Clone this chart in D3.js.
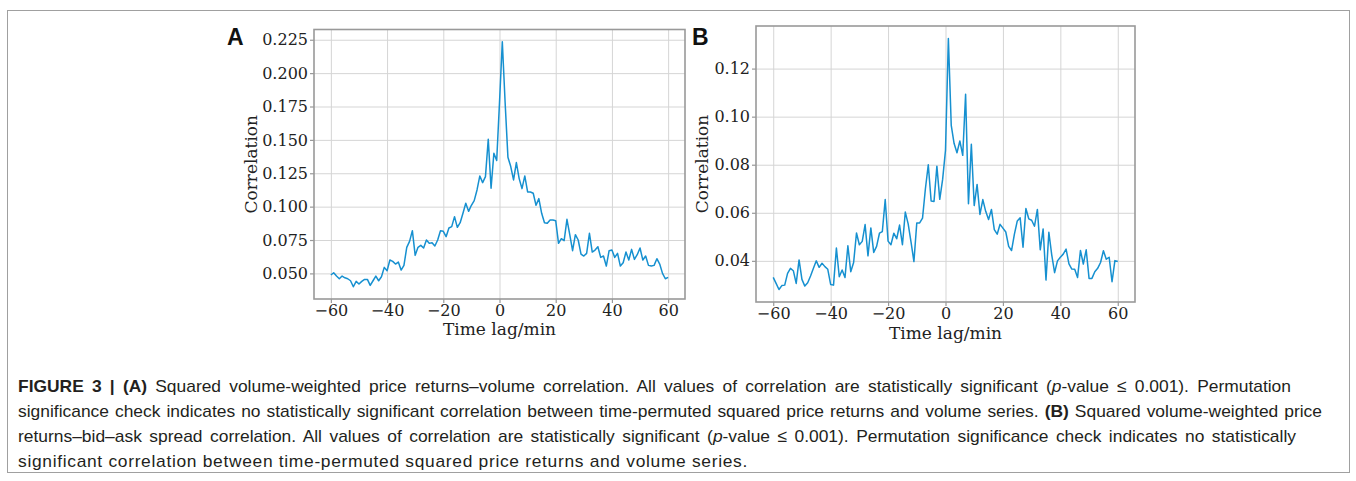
<!DOCTYPE html>
<html>
<head>
<meta charset="utf-8">
<script src="https://cdn.jsdelivr.net/npm/d3@7"></script>
<style>
  body { margin: 0; background: #fff; }
</style>
</head>
<body>
<div id="fig"></div>
<script>
// time lag in minutes, one point per minute
const lags = d3.range(-60, 61);

// (A) squared price returns - volume correlation
const corrA = [
  0.0488, 0.0505, 0.0480, 0.0460, 0.0480, 0.0467, 0.0460, 0.0445, 0.0400, 0.0440,
  0.0420, 0.0440, 0.0455, 0.0455, 0.0410, 0.0445, 0.0480, 0.0445, 0.0475, 0.0545,
  0.0520, 0.0600, 0.0590, 0.0570, 0.0585, 0.0525, 0.0560, 0.0695, 0.0740, 0.0820,
  0.0635, 0.0695, 0.0710, 0.0690, 0.0750, 0.0725, 0.0730, 0.0705, 0.0750, 0.0820,
  0.0815, 0.0775, 0.0840, 0.0850, 0.0925, 0.0845, 0.0880, 0.0950, 0.1025, 0.0965,
  0.1010, 0.1045, 0.1125, 0.1230, 0.1180, 0.1225, 0.1505, 0.1138, 0.1400, 0.1345,
  0.1780, 0.2235, 0.1780, 0.1370, 0.1300, 0.1200, 0.1330, 0.1210, 0.1135, 0.1230,
  0.1110, 0.1110, 0.1100, 0.1010, 0.1060, 0.0950, 0.0880, 0.0875, 0.0900, 0.0900,
  0.0895, 0.0725, 0.0760, 0.0745, 0.0905, 0.0790, 0.0670, 0.0790, 0.0750, 0.0645,
  0.0630, 0.0650, 0.0800, 0.0660, 0.0675, 0.0700, 0.0620, 0.0630, 0.0555, 0.0670,
  0.0675, 0.0620, 0.0650, 0.0555, 0.0580, 0.0660, 0.0600, 0.0680, 0.0605, 0.0640,
  0.0690, 0.0600, 0.0630, 0.0560, 0.0555, 0.0560, 0.0610, 0.0570, 0.0500, 0.0460,
  0.0470
];

// (B) squared price returns - bid-ask spread correlation
const corrB = [
  0.0331, 0.0306, 0.0281, 0.0297, 0.0299, 0.0348, 0.0369, 0.0359, 0.0306, 0.0404,
  0.0323, 0.0295, 0.0309, 0.0337, 0.0369, 0.0400, 0.0373, 0.0390, 0.0376, 0.0365,
  0.0302, 0.0299, 0.0453, 0.0334, 0.0362, 0.0331, 0.0463, 0.0355, 0.0393, 0.0516,
  0.0467, 0.0481, 0.0551, 0.0421, 0.0537, 0.0435, 0.0460, 0.0515, 0.0522, 0.0655,
  0.0482, 0.0467, 0.0515, 0.0492, 0.0549, 0.0467, 0.0603, 0.0554, 0.0478, 0.0397,
  0.0558, 0.0558, 0.0578, 0.0700, 0.0800, 0.0649, 0.0647, 0.0794, 0.0656, 0.0739,
  0.0860, 0.1325, 0.0964, 0.0888, 0.0850, 0.0899, 0.0839, 0.1093, 0.0638, 0.0885,
  0.0630, 0.0718, 0.0593, 0.0655, 0.0606, 0.0572, 0.0614, 0.0530, 0.0511, 0.0552,
  0.0536, 0.0520, 0.0460, 0.0443, 0.0511, 0.0566, 0.0579, 0.0457, 0.0618, 0.0575,
  0.0569, 0.0544, 0.0614, 0.0446, 0.0533, 0.0320, 0.0519, 0.0425, 0.0351, 0.0400,
  0.0415, 0.0428, 0.0449, 0.0387, 0.0366, 0.0365, 0.0331, 0.0443, 0.0387, 0.0446,
  0.0327, 0.0327, 0.0355, 0.0369, 0.0393, 0.0442, 0.0407, 0.0415, 0.0313, 0.0401,
  0.0397
];

const xTicks = [-60, -40, -20, 0, 20, 40, 60];
const yTicksA = [0.050, 0.075, 0.100, 0.125, 0.150, 0.175, 0.200, 0.225];
const yTicksB = [0.04, 0.06, 0.08, 0.10, 0.12];

const W = 1356, H = 481;
const serif = "'DejaVu Serif', serif";
const sans = "'Liberation Sans', Arial, sans-serif";
const lineColor = "#1690d0";
const spineColor = "#999";

const svg = d3.select("#fig")
    .append("svg")
    .attr("width", W)
    .attr("height", H)
    .style("display", "block");

// outer page frame
svg.append("rect")
    .attr("x", 7.5).attr("y", 10.5)
    .attr("width", 1342).attr("height", 462)
    .attr("fill", "none")
    .attr("stroke", "#a0a0a0");

function drawPanel(p) {
    const width = p.right - p.left,
        height = p.bottom - p.top;

    const g = svg.append("g")
        .attr("transform", `translate(${p.left},${p.top})`);

    const xScale = d3.scaleLinear()
        .domain([-66, 66])
        .range([0, width]);

    // matplotlib style 5% margin around the data
    const [lo, hi] = d3.extent(p.values);
    const pad = (hi - lo) * 0.05;
    const yScale = d3.scaleLinear()
        .domain([lo - pad, hi + pad])
        .range([height, 0]);

    // grid
    g.append("g")
        .attr("transform", `translate(0,${height})`)
        .call(d3.axisBottom(xScale).tickValues(xTicks).tickSize(-height).tickFormat(""))
        .call(a => a.select(".domain").remove())
        .selectAll("line").attr("stroke", "#d5d5d5").attr("stroke-width", 1);
    g.append("g")
        .call(d3.axisLeft(yScale).tickValues(p.yTicks).tickSize(-width).tickFormat(""))
        .call(a => a.select(".domain").remove())
        .selectAll("line").attr("stroke", "#d5d5d5").attr("stroke-width", 1);

    // series
    const line = d3.line()
        .x((d, i) => xScale(lags[i]))
        .y(d => yScale(d));
    g.append("path")
        .datum(p.values)
        .attr("fill", "none")
        .attr("stroke", lineColor)
        .attr("stroke-width", 1.5)
        .attr("stroke-linejoin", "round")
        .attr("d", line);

    // axes
    const xAxis = g.append("g")
        .attr("transform", `translate(0,${height})`)
        .call(d3.axisBottom(xScale).tickValues(xTicks).tickSize(4).tickPadding(1.5));
    const yAxis = g.append("g")
        .call(d3.axisLeft(yScale).tickValues(p.yTicks).tickFormat(d3.format(p.fmt)).tickSize(4).tickPadding(2));
    [xAxis, yAxis].forEach(a => {
        a.select(".domain").remove();
        a.selectAll("line").attr("stroke", spineColor).attr("stroke-width", 1.2);
        a.selectAll("text")
            .attr("fill", "#222")
            .style("font-family", serif)
            .style("font-size", "16px");
    });

    // spines
    g.append("rect")
        .attr("width", width)
        .attr("height", height)
        .attr("fill", "none")
        .attr("stroke", spineColor)
        .attr("stroke-width", 1.6);

    g.append("text")
        .attr("x", width / 2)
        .attr("y", height + p.xLabelDy)
        .attr("text-anchor", "middle")
        .attr("fill", "#222")
        .style("font-family", serif)
        .style("font-size", "17px")
        .text("Time lag/min");

    g.append("text")
        .attr("transform", "rotate(-90)")
        .attr("x", -height / 2)
        .attr("y", p.yLabelX)
        .attr("text-anchor", "middle")
        .attr("fill", "#222")
        .style("font-family", serif)
        .style("font-size", "17px")
        .text("Correlation");

    svg.append("text")
        .attr("x", p.letterX)
        .attr("y", 45)
        .attr("fill", "#111")
        .style("font-family", sans)
        .style("font-weight", "bold")
        .style("font-size", "23px")
        .text(p.letter);
}

drawPanel({letter: "A", letterX: 227, values: corrA, yTicks: yTicksA, fmt: ".3f",
    left: 314, top: 29.5, right: 685, bottom: 299, xLabelDy: 36, yLabelX: -57});
drawPanel({letter: "B", letterX: 692, values: corrB, yTicks: yTicksB, fmt: ".2f",
    left: 756, top: 26, right: 1135, bottom: 302, xLabelDy: 37, yLabelX: -48});

// caption, justified to the widths of the original
const captionLines = [
    [["FIGURE 3 | (A)", "b"], [" Squared volume-weighted price returns\u2013volume correlation. All values of correlation are statistically significant (", ""], ["p", "i"], ["-value \u2264 0.001). Permutation", ""]],
    [["significance check indicates no statistically significant correlation between time-permuted squared price returns and volume series. ", ""], ["(B)", "b"], [" Squared volume-weighted price", ""]],
    [["returns\u2013bid\u2013ask spread correlation. All values of correlation are statistically significant (", ""], ["p", "i"], ["-value \u2264 0.001). Permutation significance check indicates no statistically", ""]],
    [["significant correlation between time-permuted squared price returns and volume series.", ""]]
];
const lineEnds = [1291, 1322, 1296, 748];
const capX = 18;

const capTexts = captionLines.map((segs, i) => {
    const t = svg.append("text")
        .attr("x", capX)
        .attr("y", 392 + i * 25)
        .attr("fill", "#231f20")
        .style("font-family", sans)
        .style("font-size", "15px");
    segs.forEach(([s, st]) => {
        t.append("tspan")
            .attr("font-weight", st === "b" ? "bold" : null)
            .attr("font-style", st === "i" ? "italic" : null)
            .text(s);
    });
    return t;
});

// font size chosen so the tightest line fits, then spread the others
const fs = 15 * (lineEnds[1] - capX - 20) / capTexts[1].node().getComputedTextLength();
capTexts.forEach((t, i) => {
    t.style("font-size", fs + "px");
    const str = captionLines[i].map(s => s[0]).join("");
    const w = t.node().getComputedTextLength();
    if (i < 3) {
        const spaces = str.split(" ").length - 1;
        t.style("word-spacing", ((lineEnds[i] - capX - w) / spaces) + "px");
    } else {
        t.style("letter-spacing", ((lineEnds[i] - capX - w) / str.length) + "px");
    }
});
</script>
</body>
</html>
